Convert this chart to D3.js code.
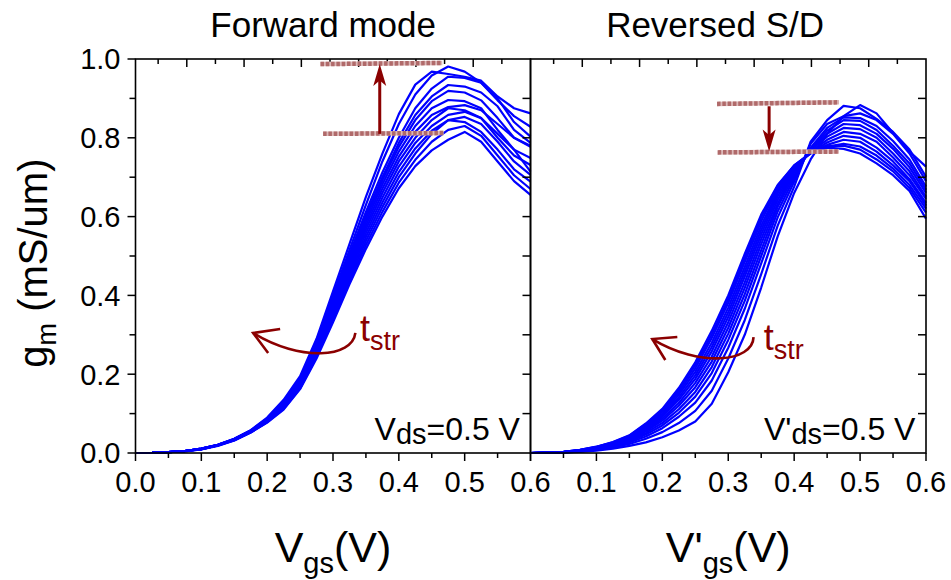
<!DOCTYPE html>
<html><head><meta charset="utf-8">
<script src="https://cdn.jsdelivr.net/npm/d3@7"></script>
<style>body{margin:0;background:#fff} svg{display:block} text{font-family:"Liberation Sans",Arial,Helvetica,sans-serif}</style>
</head><body><svg id="chart" width="951" height="580"></svg>
<script>
// ---------- data ----------
const vgs = [0,0.025,0.05,0.075,0.1,0.125,0.15,0.175,0.2,0.225,0.25,0.275,0.3,0.325,0.35,0.375,0.4,0.425,0.45,0.475,0.5,0.525,0.55,0.575,0.6];

const forwardCurves = [
 [0,.0005,.002,.005,.011,.021,.036,.058,.090,.135,.195,.290,.410,.530,.650,.760,.860,.935,.968,.962,.955,.945,.905,.875,.862],
 [0,.0005,.002,.005,.011,.021,.036,.057,.088,.132,.190,.285,.400,.515,.630,.740,.835,.910,.958,.981,.968,.940,.895,.855,.828],
 [0,.0005,.002,.005,.011,.021,.035,.057,.087,.130,.187,.280,.392,.505,.612,.712,.800,.875,.925,.955,.952,.940,.900,.840,.803],
 [0,.0005,.002,.005,.011,.020,.035,.056,.086,.128,.184,.276,.386,.497,.603,.700,.787,.858,.905,.934,.930,.915,.880,.820,.787],
 [0,.0005,.002,.005,.011,.020,.035,.056,.085,.126,.182,.272,.380,.490,.595,.692,.777,.845,.893,.919,.915,.895,.850,.800,.777],
 [0,.0005,.002,.005,.010,.020,.034,.055,.084,.124,.179,.268,.374,.482,.586,.682,.765,.830,.875,.896,.893,.875,.820,.770,.749],
 [0,.0005,.002,.005,.010,.020,.034,.055,.083,.122,.177,.264,.368,.475,.577,.671,.752,.815,.858,.878,.883,.870,.835,.800,.780],
 [0,.0005,.002,.005,.010,.020,.034,.054,.082,.120,.174,.260,.362,.468,.568,.660,.740,.800,.845,.875,.870,.850,.800,.755,.731],
 [0,.0005,.002,.005,.010,.019,.033,.054,.081,.118,.172,.256,.356,.460,.558,.648,.727,.787,.830,.858,.866,.850,.810,.770,.714],
 [0,.0005,.002,.005,.010,.019,.033,.053,.080,.116,.170,.252,.350,.452,.548,.636,.713,.773,.818,.845,.853,.835,.790,.740,.706],
 [0,.0005,.002,.005,.010,.019,.033,.053,.079,.114,.167,.248,.344,.444,.538,.624,.700,.760,.810,.845,.840,.815,.770,.720,.689],
 [0,.0005,.002,.004,.010,.019,.032,.052,.078,.112,.164,.244,.338,.436,.528,.612,.686,.744,.790,.820,.830,.805,.755,.705,.670],
 [0,.0005,.002,.004,.009,.018,.032,.052,.077,.110,.162,.240,.332,.428,.518,.600,.672,.728,.768,.795,.815,.790,.740,.690,.655]
];

const reversedCurves = [
 [0,.001,.003,.008,.016,.028,.045,.075,.112,.165,.230,.310,.400,.505,.605,.680,.730,.760,.775,.772,.760,.735,.705,.665,.595],
 [0,.001,.003,.008,.0155,.027,.044,.073,.108,.160,.223,.301,.390,.495,.598,.678,.730,.762,.778,.780,.770,.745,.715,.672,.610],
 [0,.001,.003,.0075,.015,.026,.042,.070,.105,.154,.215,.292,.381,.485,.588,.673,.728,.762,.778,.785,.778,.755,.722,.680,.620],
 [0,.001,.002,.007,.014,.025,.041,.067,.100,.148,.206,.280,.369,.472,.577,.666,.726,.762,.782,.795,.790,.765,.730,.690,.628],
 [0,.001,.002,.007,.014,.024,.039,.064,.096,.141,.197,.269,.357,.460,.566,.660,.723,.762,.788,.805,.800,.775,.740,.695,.635],
 [0,.001,.002,.007,.013,.023,.037,.062,.092,.135,.188,.258,.345,.448,.555,.652,.720,.765,.795,.815,.810,.790,.750,.705,.645],
 [0,.001,.002,.006,.0125,.022,.0355,.058,.087,.127,.178,.245,.332,.433,.543,.643,.716,.768,.803,.825,.822,.800,.760,.715,.650],
 [0,.001,.002,.006,.012,.021,.034,.055,.082,.120,.167,.232,.318,.419,.530,.633,.712,.770,.810,.835,.832,.810,.772,.725,.660],
 [0,.001,.002,.0055,.011,.0195,.0315,.051,.076,.111,.155,.218,.303,.403,.515,.625,.705,.772,.818,.845,.843,.820,.780,.735,.668],
 [0,.0005,.0015,.005,.010,.018,.029,.047,.070,.102,.143,.203,.287,.386,.500,.613,.698,.775,.825,.852,.850,.830,.792,.745,.676],
 [0,.0005,.0015,.0045,.009,.0165,.0265,.042,.063,.092,.128,.184,.267,.366,.481,.598,.689,.785,.835,.855,.862,.845,.810,.760,.690],
 [0,.0005,.001,.004,.008,.014,.023,.036,.053,.076,.107,.158,.240,.337,.454,.577,.676,.790,.845,.881,.875,.848,.815,.770,.701],
 [0,.0005,.001,.003,.006,.011,.018,.027,.040,.057,.080,.125,.205,.300,.420,.550,.660,.745,.810,.855,.883,.862,.812,.765,.727]
];

const yTickValues = [0,0.2,0.4,0.6,0.8,1.0];
const yTickLabels = ["0.0","0.2","0.4","0.6","0.8","1.0"];
const xTickValues = [0,0.1,0.2,0.3,0.4,0.5,0.6];
const xTickLabelsLeft = ["0.0","0.1","0.2","0.3","0.4","0.5","0.6"];
const xTickLabelsRight = ["","0.1","0.2","0.3","0.4","0.5","0.6"];
const panelTitles = ["Forward mode","Reversed S/D"];

// annotations in data units (Vgs, gm)
const dashLinesLeft = [[[0.281,0.987],[0.466,0.990]],[[0.285,0.810],[0.468,0.812]]];
const dashLinesRight = [[[0.283,0.886],[0.468,0.890]],[[0.284,0.763],[0.468,0.765]]];
const straightArrowLeft = {x:0.371, from:0.810, to:0.987};
const straightArrowRight = {x:0.362, from:0.880, to:0.765};
const curvedArrowLeft = [[0.334,0.305],[0.3294,0.241],[0.2502,0.231],[0.1787,0.3046]];
const curvedArrowRight = [[0.3384,0.294],[0.3369,0.231],[0.2578,0.2157],[0.1848,0.2893]];
const tstrPosLeft = [0.341,0.285];
const tstrPosRight = [0.354,0.261];
const vdsPos = [0.584,0.033];
const titlePos = [0.285,0.28];

// ---------- layout ----------
const svg = d3.select("#chart");
const yTop = 59, yBot = 453;
const panels = [
  {x0:135.5, x1:530.5, curves:forwardCurves, labels:xTickLabelsLeft, title:panelTitles[0], dashes:dashLinesLeft, arrow:straightArrowLeft, curved:curvedArrowLeft, tstr:tstrPosLeft, prime:false, arms:[[27,-4],[15,20]]},
  {x0:530.5, x1:926, curves:reversedCurves, labels:xTickLabelsRight, title:panelTitles[1], dashes:dashLinesRight, arrow:straightArrowRight, curved:curvedArrowRight, tstr:tstrPosRight, prime:true, arms:[[25,-2],[13,21]]}
];
const y = d3.scaleLinear().domain([0,1]).range([yBot, yTop]);
const red = "#8b0000";

panels.forEach((p, pi) => {
  const x = d3.scaleLinear().domain([0,0.6]).range([p.x0, p.x1]);
  const xt = d3.scaleLinear().domain([-0.1,0.6]).range([p.x1 - 401, p.x1]);
  const g = svg.append("g");

  const line = d3.line().x((d,i)=>x(vgs[i])).y(d=>y(d));
  g.selectAll("path.c").data(p.curves).join("path").attr("class","c")
    .attr("d", line).attr("fill","none").attr("stroke","#0000ff")
    .attr("stroke-width",2.2).attr("stroke-linejoin","round");

  g.append("rect").attr("x",p.x0).attr("y",yTop).attr("width",p.x1-p.x0).attr("height",yBot-yTop)
    .attr("fill","none").attr("stroke","#000").attr("stroke-width",1.6);

  const bt = d3.range(0,13).map(i=>i*0.05);
  g.selectAll("line.bt").data(bt).join("line").attr("class","bt")
    .attr("x1",d=>x(d)).attr("x2",d=>x(d)).attr("y1",yBot)
    .attr("y2",(d,i)=> yBot + (i%2===0?8:5)).attr("stroke","#000").attr("stroke-width",1.5);
  const tt = d3.range(-1,13).map(i=>i*0.05).filter(v=>xt(v)>p.x0+3 && xt(v)<p.x1-3);
  g.selectAll("line.tt").data(tt).join("line").attr("class","tt")
    .attr("x1",d=>xt(d)).attr("x2",d=>xt(d)).attr("y1",yTop)
    .attr("y2",d=> yTop + (Math.round(d*20)%2===0?8:5)).attr("stroke","#000").attr("stroke-width",1.5);
  const rt = d3.range(1,10).map(i=>i*0.1);
  g.selectAll("line.rt").data(rt).join("line").attr("class","rt")
    .attr("x1",p.x1).attr("x2",p.x1-8).attr("y1",d=>y(d)).attr("y2",d=>y(d))
    .attr("stroke","#000").attr("stroke-width",1.5);
  if (pi===0) {
    const lt = d3.range(0,11).map(i=>i*0.1);
    g.selectAll("line.lt").data(lt).join("line").attr("class","lt")
      .attr("x1",p.x0).attr("x2",(d,i)=>p.x0-(i%2===0?8:6)).attr("y1",d=>y(d)).attr("y2",d=>y(d))
      .attr("stroke","#000").attr("stroke-width",1.5);
    g.selectAll("text.yl").data(yTickValues).join("text").attr("class","yl")
      .attr("x",p.x0-15).attr("y",d=>y(d)).attr("dy","0.36em").attr("text-anchor","end")
      .attr("font-size",29).text((d,i)=>yTickLabels[i]);
  }
  g.selectAll("text.xl").data(xTickValues).join("text").attr("class","xl")
    .attr("x",d=>x(d)).attr("y",492).attr("text-anchor","middle")
    .attr("font-size",29).text((d,i)=>p.labels[i]);

  g.append("text").attr("x",x(titlePos[pi])).attr("y",37).attr("text-anchor","middle")
    .attr("font-size",35).text(p.title);

  const xtTxt = g.append("text").attr("x",x(0.3)).attr("y",562).attr("text-anchor","middle").attr("font-size",43);
  xtTxt.append("tspan").text(p.prime?"V'":"V");
  xtTxt.append("tspan").attr("font-size",29).attr("dy",11).text("gs");
  xtTxt.append("tspan").attr("dy",-11).text("(V)");

  const vt = g.append("text").attr("x",x(vdsPos[0])).attr("y",y(vdsPos[1])).attr("text-anchor","end").attr("font-size",32);
  vt.append("tspan").text(p.prime?"V'":"V");
  vt.append("tspan").attr("font-size",29).attr("dy",4).text("ds");
  vt.append("tspan").attr("dy",-4).text("=0.5 V");

  p.dashes.forEach(seg=>{
    g.append("line").attr("x1",x(seg[0][0])).attr("y1",y(seg[0][1])).attr("x2",x(seg[1][0])).attr("y2",y(seg[1][1]))
      .attr("stroke","#dcb9b9").attr("stroke-width",4.5);
    g.append("line").attr("x1",x(seg[0][0])).attr("y1",y(seg[0][1])).attr("x2",x(seg[1][0])).attr("y2",y(seg[1][1]))
      .attr("stroke","#b06a6a").attr("stroke-width",4.5).attr("stroke-dasharray","3.5,1.8");
  });

  const ax = x(p.arrow.x), ay0 = y(p.arrow.from), ay1 = y(p.arrow.to);
  const dir = ay1 < ay0 ? -1 : 1;
  const headLen = 22, headW = 6.5;
  g.append("line").attr("x1",ax).attr("x2",ax).attr("y1",ay0).attr("y2",ay1 - dir*headLen*0.7)
    .attr("stroke",red).attr("stroke-width",3);
  g.append("path").attr("d",`M${ax},${ay1} L${ax-headW},${ay1-dir*headLen} L${ax},${ay1-dir*headLen*0.75} L${ax+headW},${ay1-dir*headLen} Z`)
    .attr("fill",red);

  const c = p.curved.map(d=>[x(d[0]),y(d[1])]);
  g.append("path").attr("d",`M${c[0][0]},${c[0][1]} C${c[1][0]},${c[1][1]} ${c[2][0]},${c[2][1]} ${c[3][0]},${c[3][1]}`)
    .attr("fill","none").attr("stroke",red).attr("stroke-width",2.6);
  const tip = c[3];
  g.append("path").attr("d",`M${tip[0]+p.arms[0][0]},${tip[1]+p.arms[0][1]} L${tip[0]},${tip[1]} L${tip[0]+p.arms[1][0]},${tip[1]+p.arms[1][1]}`)
    .attr("fill","none").attr("stroke",red).attr("stroke-width",2.6).attr("stroke-linejoin","miter");

  const ts = g.append("text").attr("x",x(p.tstr[0])).attr("y",y(p.tstr[1])).attr("fill",red).attr("font-size",36);
  ts.append("tspan").text("t");
  ts.append("tspan").attr("font-size",27).attr("dy",9).text("str");
});

const yt = svg.append("text").attr("transform",`translate(47,${y(0.482)}) rotate(-90)`)
  .attr("text-anchor","middle").attr("font-size",40);
yt.append("tspan").text("g");
yt.append("tspan").attr("font-size",27).attr("dy",9).text("m");
yt.append("tspan").attr("dy",-9).text(" (mS/um)");
</script></body></html>
